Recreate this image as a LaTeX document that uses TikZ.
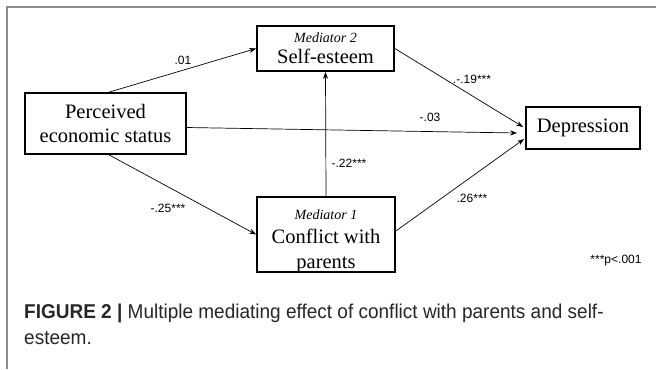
\documentclass[tikz,border=0pt]{standalone}
\usepackage{fontspec}
\setmainfont{Liberation Serif}
\newfontfamily\labf{Liberation Sans}
\newfontfamily\capf[FakeStretch=0.95]{Liberation Sans}
\newcommand\medf{\fontsize{14bp}{16bp}\selectfont\itshape}
\usetikzlibrary{arrows.meta}
\begin{document}
\begin{tikzpicture}[x=1bp,y=-1bp,
  vbox/.style={draw, line width=1.7bp, inner sep=0pt, align=center,
     font=\fontsize{20.5bp}{24bp}\selectfont},
  conn/.style={line width=0.7bp, -{Stealth[length=7bp,width=5bp]}},
  elab/.style={font=\labf\fontsize{12bp}{13bp}\selectfont, inner sep=0pt},
  captext/.style={anchor=base west, inner sep=0pt, text=black!85,
     font=\capf\fontsize{20bp}{26bp}\selectfont},
  frame/.style={draw=black!45, line width=1.5bp}]
\useasboundingbox (0,0) rectangle (656,369);
\draw[frame] (7,369) -- (7,7) -- (656,7);
% boxes
\node[vbox, minimum width=161bp, minimum height=61bp] (P) at (105.5,123.5) {Perceived\\economic status};
\node[vbox, minimum width=137bp, minimum height=45bp] (S) at (325.5,48.5) {{\medf Mediator 2}\\[-3bp]Self-esteem};
\node[vbox, minimum width=138bp, minimum height=75bp, text depth=0pt] (C) at (326,234.5) {\rule{0pt}{19bp}{\medf Mediator 1}\\[0bp]Conflict with\\[1bp]parents};
\node[vbox, minimum width=114bp, minimum height=42bp] (D) at (583,128) {Depression};
% helper end points
\coordinate (Pn) at ([xshift=3.5bp]P.north);
\coordinate (Ps) at ([xshift=3.5bp]P.south);
\coordinate (Pe) at ([yshift=-4bp]P.east);
\coordinate (Ce) at ([yshift=3.5bp]C.east);
\coordinate (D1) at ([xshift=-2bp,yshift=1bp]D.west);
\coordinate (D2) at ([xshift=-8bp,yshift=-5bp]D.west);
\coordinate (D3) at ([xshift=-1bp,yshift=-11bp]D.west);
% connectors
\draw[conn] (Pn) -- (S.west);
\draw[conn] (S.east) -- (D1);
\draw[conn] (Pe) -- (D2);
\draw[conn] (C.north) -- (S.south);
\draw[conn] (Ps) -- (C.west);
\draw[conn] (Ce) -- (D3);
% labels
\node[elab] (l1) at (183,60) {.01};
\node[elab] (l2) at (472,79) {.-.19***};
\node[elab] (l3) at (430,117) {-.03};
\node[elab] (l4) at (349,163) {-.22***};
\node[elab] (l5) at (168,208) {-.25***};
\node[elab] (l6) at (472,198) {.26***};
\node[elab] (pv) at (616,261) {***p<.001};
% caption
\node[captext] (cap1) at (24,318)
  {\textbf{FIGURE 2} \textbf{|} Multiple mediating effect of conflict with parents and self-};
\node[captext] (cap2) at (24,344) {esteem.};
\end{tikzpicture}
\end{document}
